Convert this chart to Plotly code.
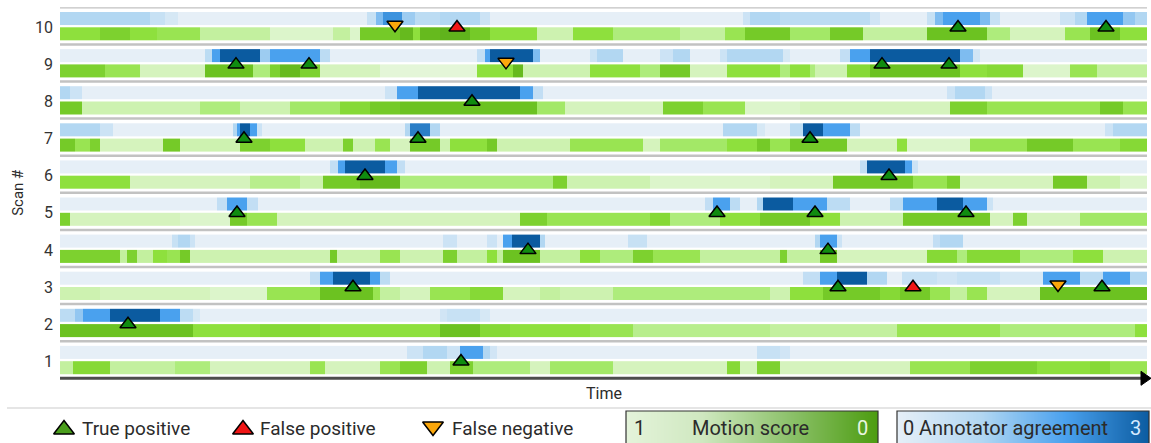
import plotly.graph_objects as go

W, H = 1151, 443
DURATION = 1087  # frames per scan

SCAN_LABELS = [str(i) for i in range(1, 11)]

# Annotator agreement (0-3) as runs: (start frame, level)
AGREE_10 = [(0, 1.0), (90, 0.6), (105, 0.3), (118, 0), (307, 0.6), (316, 1.5), (323, 2.2), (342, 1.2),
            (355, 0.8), (380, 1.0), (420, 0.5), (430, 0), (683, 0.5), (690, 1.0), (720, 0.8), (810, 0.4),
            (820, 0), (867, 0.6), (875, 1.5), (883, 2.0), (920, 1.5), (930, 0.6), (940, 0), (1000, 0.5),
            (1015, 1.0), (1027, 2.0), (1063, 1.3), (1075, 1.0)]
AGREE_9 = [(0, 0), (145, 0.8), (152, 2), (160, 3), (200, 1.2), (210, 2), (260, 0.8), (270, 0), (417, 0.7),
           (425, 2), (430, 3), (473, 1.5), (480, 0), (530, 0.5), (537, 1), (563, 0), (600, 0.5), (613, 1),
           (630, 0), (660, 0.5), (667, 1), (723, 0.3), (730, 0), (780, 0.7), (790, 2), (810, 3), (900, 1.5),
           (913, 0.4), (920, 0)]
AGREE_8 = [(0, 1), (10, 0.5), (22, 0), (325, 0.5), (337, 2), (358, 3), (460, 2), (473, 0.7), (483, 0),
           (887, 0.5), (895, 1), (925, 0.5), (932, 0)]
AGREE_7 = [(0, 1), (40, 0.5), (53, 0), (173, 1), (177, 2), (180, 3), (190, 2), (197, 0.5), (202, 0),
           (345, 1), (350, 2.5), (370, 1), (380, 0), (663, 1), (697, 0.3), (705, 0), (730, 0.8), (743, 3),
           (763, 2), (790, 0.8), (800, 0), (1045, 0.5), (1053, 1)]
AGREE_6 = [(0, 0), (270, 0.7), (278, 2), (285, 3), (325, 2), (337, 0.7), (345, 0), (800, 0.7), (807, 3),
           (845, 2), (852, 0.5), (858, 0)]
AGREE_5 = [(0, 0), (157, 0.7), (167, 2), (187, 0.7), (198, 0), (645, 0.7), (653, 2), (670, 0.8), (680, 0),
           (697, 1), (703, 3), (733, 2), (767, 0.8), (790, 0), (830, 0.8), (843, 2), (877, 3), (903, 2),
           (927, 0.5), (933, 0)]
AGREE_4 = [(0, 0), (112, 0.6), (118, 1), (130, 0.5), (135, 0), (383, 0.5), (397, 0), (427, 0.5), (437, 0),
           (443, 2), (452, 3), (480, 1), (485, 0), (568, 0.6), (587, 0), (755, 1), (760, 2), (777, 0.5),
           (782, 0), (873, 0.7), (880, 1), (903, 0)]
AGREE_3 = [(0, 0), (250, 0.7), (260, 2), (273, 3), (310, 2), (320, 0.8), (330, 0), (743, 0.7), (760, 2),
           (777, 3), (807, 1), (827, 0), (842, 0.6), (877, 0.4), (897, 0.6), (940, 0.3), (983, 2),
           (1020, 0.8), (1043, 2), (1070, 1)]
AGREE_2 = [(0, 0.8), (15, 1.3), (23, 2), (50, 3), (100, 2), (120, 0.8), (133, 0.3), (140, 0), (380, 0.4),
           (387, 0.6), (420, 0.3), (430, 0)]
AGREE_1 = [(0, 0), (347, 0.5), (363, 1), (387, 0.5), (400, 2), (423, 1), (430, 0.4), (437, 0), (697, 0.6),
           (720, 0.4), (730, 0)]

# Motion score (1 = still, 0 = strong motion) as runs: (start frame, score)
MOTION_10 = [(0, 0.45), (40, 0.35), (70, 0.45), (97, 0.5), (140, 0.7), (210, 0.85), (273, 0.7), (290, 0.85),
             (300, 0.3), (340, 0.2), (353, 0.45), (360, 0.2), (380, 0.15), (410, 0.3), (430, 0.45),
             (477, 0.75), (513, 0.45), (553, 0.6), (620, 0.7), (665, 0.5), (685, 0.3), (730, 0.55),
             (770, 0.3), (803, 0.7), (867, 0.25), (927, 0.6), (950, 0.8), (1005, 0.5), (1030, 0.25),
             (1060, 0.45)]
MOTION_9 = [(0, 0.35), (45, 0.5), (80, 0.8), (145, 0.25), (193, 0.6), (210, 0.35), (220, 0.2), (240, 0.35),
            (260, 0.8), (320, 0.9), (417, 0.45), (453, 0.2), (463, 0.75), (530, 0.45), (580, 0.6),
            (600, 0.3), (630, 0.8), (667, 0.45), (720, 0.6), (730, 0.45), (750, 0.6), (755, 0.75),
            (787, 0.4), (810, 0.25), (900, 0.45), (927, 0.4), (963, 0.85), (1010, 0.5), (1037, 0.7)]
MOTION_8 = [(0, 0.3), (22, 0.75), (140, 0.6), (180, 0.75), (230, 0.55), (280, 0.4), (310, 0.3), (340, 0.25),
            (477, 0.55), (505, 0.8), (603, 0.35), (643, 0.5), (685, 0.85), (740, 0.8), (890, 0.35),
            (927, 0.5), (1040, 0.3), (1063, 0.5)]
MOTION_7 = [(0, 0.3), (15, 0.5), (30, 0.35), (40, 0.8), (103, 0.3), (120, 0.75), (180, 0.35), (210, 0.45),
            (245, 0.75), (283, 0.35), (293, 0.75), (315, 0.5), (330, 0.8), (350, 0.3), (380, 0.75),
            (390, 0.45), (427, 0.3), (437, 0.75), (510, 0.5), (583, 0.8), (600, 0.55), (667, 0.45),
            (697, 0.3), (710, 0.5), (730, 0.3), (787, 0.8), (837, 0.45), (847, 0.85), (910, 0.5),
            (967, 0.3), (1013, 0.5), (1060, 0.4)]
MOTION_6 = [(0, 0.45), (70, 0.8), (190, 0.65), (240, 0.75), (263, 0.3), (300, 0.2), (340, 0.6), (493, 0.35),
            (507, 0.75), (590, 0.85), (710, 0.8), (773, 0.3), (853, 0.5), (887, 0.35), (900, 0.8),
            (993, 0.3), (1027, 0.75), (1060, 0.85)]
MOTION_5 = [(0, 0.35), (10, 0.8), (120, 0.85), (170, 0.3), (187, 0.5), (217, 0.8), (460, 0.35), (487, 0.5),
            (590, 0.4), (610, 0.6), (660, 0.45), (700, 0.3), (750, 0.45), (780, 0.75), (843, 0.3),
            (930, 0.8), (953, 0.35), (967, 0.8), (1020, 0.55)]
MOTION_4 = [(0, 0.35), (60, 0.7), (67, 0.35), (77, 0.7), (93, 0.45), (107, 0.5), (120, 0.3), (130, 0.75),
            (270, 0.3), (277, 0.75), (320, 0.5), (340, 0.75), (383, 0.35), (397, 0.7), (427, 0.45),
            (437, 0.7), (443, 0.25), (480, 0.7), (520, 0.45), (540, 0.6), (573, 0.35), (593, 0.5),
            (640, 0.7), (720, 0.35), (727, 0.7), (760, 0.3), (777, 0.8), (867, 0.4), (897, 0.6),
            (907, 0.4), (960, 0.6), (1013, 0.45), (1043, 0.75)]
MOTION_3 = [(0, 0.75), (40, 0.8), (150, 0.85), (207, 0.5), (260, 0.25), (313, 0.5), (320, 0.7), (340, 0.8),
            (370, 0.5), (410, 0.4), (443, 0.8), (480, 0.7), (500, 0.75), (553, 0.6), (710, 0.75),
            (730, 0.45), (763, 0.3), (820, 0.4), (840, 0.3), (870, 0.5), (890, 0.7), (907, 0.5),
            (927, 0.8), (980, 0.25)]
MOTION_2 = [(0, 0.25), (133, 0.45), (200, 0.4), (260, 0.45), (380, 0.25), (420, 0.4), (450, 0.45),
            (530, 0.5), (573, 0.65), (710, 0.7), (837, 0.5), (940, 0.6), (1075, 0.45)]
MOTION_1 = [(0, 0.7), (13, 0.4), (50, 0.7), (115, 0.6), (150, 0.8), (250, 0.5), (265, 0.8), (320, 0.5),
            (340, 0.35), (367, 0.75), (390, 0.35), (413, 0.6), (470, 0.8), (490, 0.55), (553, 0.8),
            (667, 0.4), (680, 0.8), (697, 0.35), (720, 0.8), (850, 0.5), (910, 0.35), (977, 0.45),
            (1030, 0.4), (1050, 0.5)]

# Detected events: scan number and frame
TP_SCAN = [10, 10, 9, 9, 9, 9, 8, 7, 7, 7, 6, 6, 5, 5, 5, 5, 4, 4, 3, 3, 3, 2, 1]
TP_TIME = [898, 1046, 176, 249, 822, 889, 412, 184, 358, 750, 305, 829, 177, 657, 755, 906, 468, 768,
           293, 778, 1042, 68, 401]
FP_SCAN = [10, 3]
FP_TIME = [397, 853]
FN_SCAN = [10, 9, 3]
FN_TIME = [335, 446, 998]

AGREEMENT = {10: AGREE_10, 9: AGREE_9, 8: AGREE_8, 7: AGREE_7, 6: AGREE_6,
             5: AGREE_5, 4: AGREE_4, 3: AGREE_3, 2: AGREE_2, 1: AGREE_1}
MOTION = {10: MOTION_10, 9: MOTION_9, 8: MOTION_8, 7: MOTION_7, 6: MOTION_6,
          5: MOTION_5, 4: MOTION_4, 3: MOTION_3, 2: MOTION_2, 1: MOTION_1}

# ---- styling ----
FONT = "Roboto"
TEXT = "#2b2b2b"
AGREE_SCALE = [[0.0, "#e6eff7"], [1 / 3, "#b2d7f2"], [2 / 3, "#4aa1ee"], [1.0, "#0b5ba0"]]
MOTION_SCALE = [[0.0, "#4f9c14"], [0.25, "#6cc221"], [0.45, "#8ee03d"], [0.6, "#aeec7c"],
                [0.75, "#cdf2b0"], [0.9, "#e4f6d8"], [1.0, "#f0f9ea"]]
MOTION_KEY_SCALE = [[0.0, "#4c9c10"], [0.35, "#8cc16a"], [0.7, "#cfe8c0"], [1.0, "#e4f3da"]]
TP_COLOR, FP_COLOR, FN_COLOR = "#108c10", "#f01515", "#fba70b"

# plot area in pixels
PX_L, PX_R = 60, 1147
PX_T, PX_B = 7.3, 378.3


def fx(px):
    return px / W


def fy(py):
    return 1 - py / H


def strip(runs, lo, hi, scale, zmax):
    starts = [s for s, _ in runs]
    vals = [v for _, v in runs]
    return go.Heatmap(x=starts + [DURATION], y=[lo, hi], z=[vals], colorscale=scale,
                      zmin=0, zmax=zmax, showscale=False, hoverinfo="skip")


fig = go.Figure()

# blue agreement strip on top, green motion strip below, inside each scan row
for scan in range(1, 11):
    fig.add_trace(strip(AGREEMENT[scan], scan - 0.485, scan - 0.127, AGREE_SCALE, 3))
    fig.add_trace(strip(MOTION[scan], scan - 0.881, scan - 0.539, MOTION_SCALE, 1))


def events(times, scans, symbol, color, dy):
    return go.Scatter(x=times, y=[s - dy for s in scans], mode="markers", hoverinfo="skip",
                      marker=dict(symbol=symbol, size=14, color=color,
                                  line=dict(color="black", width=1.5)),
                      showlegend=False)


fig.add_trace(events(TP_TIME, TP_SCAN, "triangle-up", TP_COLOR, 0.545))
fig.add_trace(events(FP_TIME, FP_SCAN, "triangle-up", FP_COLOR, 0.545))
fig.add_trace(events(FN_TIME, FN_SCAN, "triangle-down", FN_COLOR, 0.47))

# legend glyphs (pixel-space overlay)
LEGEND_ITEMS = [("True positive", "triangle-up", "#4a9e1c", 64, 80),
                ("False positive", "triangle-up", FP_COLOR, 243, 258),
                ("False negative", "triangle-down", FN_COLOR, 433, 450)]
LEG_Y = 428
for name, sym, col, mx, tx in LEGEND_ITEMS:
    dy = 1.5 if sym == "triangle-up" else -1.5
    fig.add_trace(go.Scatter(x=[mx], y=[LEG_Y + dy], xaxis="x4", yaxis="y4", mode="markers",
                             hoverinfo="skip", showlegend=False,
                             marker=dict(symbol=sym, size=18, color=col,
                                         line=dict(color="black", width=1.5))))

# colour keys
GREEN_BOX = (626, 878)
BLUE_BOX = (897, 1149)
BOX_TOP = 411
fig.add_trace(go.Heatmap(x=[0, 1], y=[0, 1], z=[[1, 0], [1, 0]], zsmooth="best", zmin=0, zmax=1,
                         colorscale=MOTION_KEY_SCALE, showscale=False, hoverinfo="skip",
                         xaxis="x2", yaxis="y2"))
fig.add_trace(go.Heatmap(x=[0, 1], y=[0, 1], z=[[0, 3], [0, 3]], zsmooth="best", zmin=0, zmax=3,
                         colorscale=AGREE_SCALE, showscale=False, hoverinfo="skip",
                         xaxis="x3", yaxis="y3"))

hidden = dict(visible=False, fixedrange=True)
shapes = []
for r in range(1, 11):
    shapes.append(dict(type="line", xref="x", yref="y", x0=0, x1=DURATION, y0=r, y1=r,
                       line=dict(color="#c2c2c2", width=2.5), layer="above"))
# time axis with arrow
shapes.append(dict(type="line", xref="paper", yref="paper", x0=fx(PX_L), x1=fx(1143),
                   y0=fy(PX_B), y1=fy(PX_B), line=dict(color="#4d4d4d", width=3)))
shapes.append(dict(type="path", xref="paper", yref="paper",
                   path=f"M{fx(1141)},{fy(PX_B - 7)} L{fx(1151)},{fy(PX_B)} L{fx(1141)},{fy(PX_B + 7)} Z",
                   fillcolor="black", line=dict(color="black", width=1)))
# legend divider
shapes.append(dict(type="line", xref="paper", yref="paper", x0=fx(7), x1=1, y0=fy(408), y1=fy(408),
                   line=dict(color="#dcdcdc", width=1.5)))
for x0, x1 in (GREEN_BOX, BLUE_BOX):
    shapes.append(dict(type="rect", xref="paper", yref="paper", x0=fx(x0), x1=fx(x1),
                       y0=fy(BOX_TOP), y1=-0.01, line=dict(color="#333333", width=1.2)))

ann = []
for name, sym, col, mx, tx in LEGEND_ITEMS:
    ann.append(dict(text=name, x=fx(tx), y=fy(LEG_Y), xanchor="left", yanchor="middle",
                    font=dict(size=19, color=TEXT)))
KEY_Y = fy(428)
ann += [
    dict(text="1", x=fx(632), y=KEY_Y, xanchor="left", yanchor="middle", font=dict(size=20, color=TEXT)),
    dict(text="Motion score", x=fx(750), y=KEY_Y, xanchor="center", yanchor="middle",
         font=dict(size=20, color=TEXT)),
    dict(text="0", x=fx(870), y=KEY_Y, xanchor="right", yanchor="middle",
         font=dict(size=20, color="#eaf6e0")),
    dict(text="0", x=fx(901), y=KEY_Y, xanchor="left", yanchor="middle", font=dict(size=20, color=TEXT)),
    dict(text="Annotator agreement", x=fx(917), y=KEY_Y, xanchor="left", yanchor="middle",
         font=dict(size=20, color=TEXT)),
    dict(text="3", x=fx(1143), y=KEY_Y, xanchor="right", yanchor="middle",
         font=dict(size=20, color="#d6eaff")),
    dict(text="Time", x=fx((PX_L + PX_R) / 2), y=fy(393), xanchor="center", yanchor="middle",
         font=dict(size=16, color=TEXT)),
    dict(text="Scan #", x=fx(18), y=fy((PX_T + PX_B) / 2), xanchor="center", yanchor="middle",
         textangle=-90, font=dict(size=15, color=TEXT)),
]
for a in ann:
    a.update(xref="paper", yref="paper", showarrow=False)

fig.update_layout(
    width=W, height=H, margin=dict(l=0, r=0, t=0, b=0),
    paper_bgcolor="white", plot_bgcolor="rgba(0,0,0,0)",
    font=dict(family=FONT, color=TEXT),
    showlegend=False,
    xaxis=dict(domain=[fx(PX_L), fx(PX_R)], range=[0, DURATION], visible=False, fixedrange=True),
    yaxis=dict(domain=[fy(PX_B), fy(PX_T)], range=[0, 10], fixedrange=True,
               tickvals=[int(s) - 0.54 for s in SCAN_LABELS], ticktext=SCAN_LABELS,
               ticks="", ticklabelstandoff=6, showgrid=False, zeroline=False, showline=False,
               tickfont=dict(size=16, color="#333333", family=FONT)),
    xaxis2=dict(domain=[fx(GREEN_BOX[0]), fx(GREEN_BOX[1])], range=[0, 1], anchor="y2", **hidden),
    yaxis2=dict(domain=[0, fy(BOX_TOP)], range=[0, 1], anchor="x2", **hidden),
    xaxis3=dict(domain=[fx(BLUE_BOX[0]), fx(BLUE_BOX[1])], range=[0, 1], anchor="y3", **hidden),
    yaxis3=dict(domain=[0, fy(BOX_TOP)], range=[0, 1], anchor="x3", **hidden),
    xaxis4=dict(domain=[0, 1], range=[0, W], anchor="y4", **hidden),
    yaxis4=dict(domain=[0, 1], range=[H, 0], anchor="x4", **hidden),
    shapes=shapes,
    annotations=ann,
)

fig.write_html("out.html")
